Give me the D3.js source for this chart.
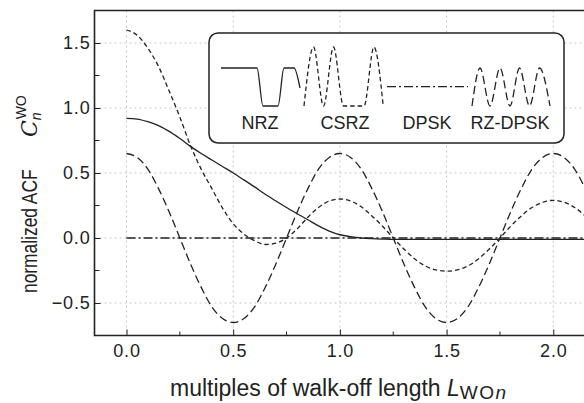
<!DOCTYPE html>
<html>
<head>
<meta charset="utf-8">
<script src="https://cdn.jsdelivr.net/npm/d3@7"></script>
<style>
  body { margin: 0; background: #fff; }
  svg { display: block; font-family: "Liberation Sans", Arial, sans-serif; }
</style>
</head>
<body>
<div id="chart"></div>
<script>
// walk-off multiples (x samples)
const walkOff = [0, 0.05, 0.1, 0.15, 0.2, 0.25, 0.3, 0.35, 0.4, 0.45, 0.5, 0.55, 0.6, 0.65, 0.7, 0.75,
  0.8, 0.85, 0.9, 0.95, 1.0, 1.05, 1.1, 1.15, 1.2, 1.25, 1.3, 1.35, 1.4, 1.45, 1.5, 1.55, 1.6, 1.65,
  1.7, 1.75, 1.8, 1.85, 1.9, 1.95, 2.0, 2.05, 2.1, 2.15];

// normalized ACF per modulation format
const nrz = [0.92, 0.915, 0.895, 0.865, 0.82, 0.765, 0.705, 0.65, 0.6, 0.55, 0.5, 0.447, 0.393, 0.337,
  0.285, 0.235, 0.187, 0.14, 0.093, 0.053, 0.025, 0.01, 0.0, -0.005, -0.008, -0.01, -0.01, -0.01, -0.01,
  -0.01, -0.01, -0.01, -0.01, -0.01, -0.01, -0.01, -0.01, -0.01, -0.01, -0.01, -0.01, -0.01, -0.01, -0.01];
const csrz = [1.6, 1.56, 1.46, 1.32, 1.13, 0.93, 0.71, 0.53, 0.38, 0.23, 0.11, 0.03, -0.02, -0.05, -0.04,
  0.0, 0.07, 0.16, 0.235, 0.285, 0.3, 0.285, 0.24, 0.17, 0.09, 0.0, -0.085, -0.16, -0.215, -0.245, -0.255,
  -0.245, -0.215, -0.16, -0.085, 0.0, 0.09, 0.17, 0.235, 0.275, 0.29, 0.275, 0.235, 0.17];
const dpsk = [0, 0, 0, 0, 0, 0, 0, 0, 0, 0, 0, 0, 0, 0, 0, 0, 0, 0, 0, 0, 0, 0, 0, 0, 0, 0, 0, 0, 0, 0,
  0, 0, 0, 0, 0, 0, 0, 0, 0, 0, 0, 0, 0, 0];
const rzDpsk = [0.65, 0.62, 0.53, 0.38, 0.2, 0.0, -0.2, -0.38, -0.53, -0.62, -0.65, -0.62, -0.53, -0.38,
  -0.2, 0.0, 0.2, 0.38, 0.53, 0.62, 0.65, 0.62, 0.53, 0.38, 0.2, 0.0, -0.2, -0.38, -0.53, -0.62, -0.65,
  -0.62, -0.53, -0.38, -0.2, 0.0, 0.2, 0.38, 0.53, 0.62, 0.65, 0.62, 0.53, 0.38];

const xTicks = [0, 0.5, 1.0, 1.5, 2.0];
const xMinor = [0.25, 0.75, 1.25, 1.75];
const yTicks = [-0.5, 0, 0.5, 1.0, 1.5];
const yMinor = [-0.25, 0.25, 0.75, 1.25];

const series = [
  { name: 'NRZ', values: nrz, dash: null },
  { name: 'CSRZ', values: csrz, dash: '4.5,3' },
  { name: 'DPSK', values: dpsk, dash: '9,3,2,3' },
  { name: 'RZ-DPSK', values: rzDpsk, dash: '8,4' }
];

const W = 584, H = 403;
const plot = { left: 94.5, right: 585.3, top: 10.5, bottom: 335.5 };
const ink = '#222';

const svg = d3.select('#chart').append('svg')
  .attr('width', W).attr('height', H);

const x = d3.scaleLinear().domain([-0.15, 2.15]).range([plot.left, plot.right]);
const y = d3.scaleLinear().domain([-0.75, 1.75]).range([plot.bottom, plot.top]);

svg.append('defs').append('clipPath').attr('id', 'clip')
  .append('rect')
  .attr('x', plot.left).attr('y', plot.top)
  .attr('width', plot.right - plot.left).attr('height', plot.bottom - plot.top);

// grid
const grid = svg.append('g').attr('stroke', '#c8c8c8').attr('stroke-width', 1).attr('stroke-dasharray', '2,3');
grid.selectAll('.gx').data(xTicks).enter().append('line')
  .attr('x1', d => x(d)).attr('x2', d => x(d))
  .attr('y1', plot.top).attr('y2', plot.bottom);
grid.selectAll('.gy').data(yTicks).enter().append('line')
  .attr('x1', plot.left).attr('x2', plot.right)
  .attr('y1', d => y(d)).attr('y2', d => y(d));

// curves
const line = d3.line()
  .x((d, i) => x(walkOff[i]))
  .y(d => y(d))
  .curve(d3.curveMonotoneX);

svg.append('g').attr('clip-path', 'url(#clip)')
  .selectAll('path').data(series).enter().append('path')
  .attr('d', d => line(d.values))
  .attr('fill', 'none')
  .attr('stroke', ink)
  .attr('stroke-width', 1.3)
  .attr('stroke-dasharray', d => d.dash);

// axes (ticks point inward)
const xAxis = svg.append('g').attr('transform', `translate(0,${plot.bottom})`)
  .call(d3.axisBottom(x).tickValues(xTicks).tickSize(-6).tickPadding(9).tickFormat(d3.format('.1f')));
xAxis.append('g').selectAll('line').data(xMinor).enter().append('line')
  .attr('x1', d => x(d)).attr('x2', d => x(d)).attr('y1', 0).attr('y2', -4).attr('stroke', ink);

const yAxis = svg.append('g').attr('transform', `translate(${plot.left},0)`)
  .call(d3.axisLeft(y).tickValues(yTicks).tickSize(-6).tickPadding(4).tickFormat(d3.format('.1f')));
yAxis.append('g').selectAll('line').data(yMinor).enter().append('line')
  .attr('y1', d => y(d)).attr('y2', d => y(d)).attr('x1', 0).attr('x2', 5).attr('stroke', ink);

[xAxis, yAxis].forEach(a => {
  a.select('.domain').remove();
  a.selectAll('.tick line').attr('stroke', ink);
  a.selectAll('.tick text').attr('font-size', 18).attr('letter-spacing', 0.8).attr('fill', ink)
    .attr('font-family', '"Liberation Sans", Arial, sans-serif');
});

// frame: left, bottom, top
svg.append('path')
  .attr('d', `M${plot.right},${plot.top}H${plot.left}V${plot.bottom}H${plot.right}`)
  .attr('fill', 'none').attr('stroke', ink).attr('stroke-width', 1.6);

// axis titles
const xt = svg.append('text').attr('x', 170).attr('y', 396)
  .attr('font-size', 23).attr('fill', ink);
xt.append('tspan').text('multiples of walk-off length ');
xt.append('tspan').attr('font-style', 'italic').text('L');
xt.append('tspan').attr('font-size', 19).attr('letter-spacing', 1.5).attr('dy', 3).text('WO');
xt.append('tspan').attr('font-size', 19).attr('font-style', 'italic').text('n');

svg.append('text').attr('transform', 'translate(37,293) rotate(-90) scale(0.79,1)')
  .attr('font-size', 22).attr('fill', ink).text('normalized ACF');

const ysym = svg.append('text').attr('transform', 'translate(37,137) rotate(-90)')
  .attr('font-size', 22).attr('fill', ink);
ysym.append('tspan').attr('font-style', 'italic').attr('font-family', '"DejaVu Serif", serif').text('C');
ysym.append('tspan').attr('font-size', 14).attr('font-style', 'italic').attr('dy', 4).text('n');
ysym.append('tspan').attr('font-size', 14).attr('dx', -7).attr('dy', -15).text('WO');

// legend
const lg = svg.append('g');
lg.append('rect').attr('x', 209).attr('y', 33).attr('width', 355).attr('height', 110).attr('rx', 9)
  .attr('fill', '#fff').attr('stroke', ink).attr('stroke-width', 1.5);

const hi = 47, mid = 68, lo = 106;
const glyph = d3.line().curve(d3.curveMonotoneX);
const glyphs = [
  { pts: [[221, mid], [257, mid], [263, lo], [278, lo], [284, mid], [294, mid], [300, 88]], label: 260 },
  { pts: [[304, lo], [313.5, hi], [323.5, lo], [333.5, hi], [343.5, lo], [364, lo], [374, hi], [383, 104]], label: 345 },
  { pts: [[387, 86.7], [468, 86.7]], label: 427 },
  { pts: [[472, lo], [480, mid], [490, lo], [500, mid], [510, lo], [519.5, mid], [529.5, lo], [539.5, mid], [550, lo]], label: 510 }
];
glyphs.forEach((g, i) => {
  lg.append('path').attr('d', glyph(g.pts)).attr('fill', 'none').attr('stroke', ink)
    .attr('stroke-width', 1.3).attr('stroke-dasharray', series[i].dash);
  lg.append('text').attr('x', g.label).attr('y', 129).attr('text-anchor', 'middle')
    .attr('font-size', 18).attr('fill', ink).text(series[i].name);
});
</script>
</body>
</html>
